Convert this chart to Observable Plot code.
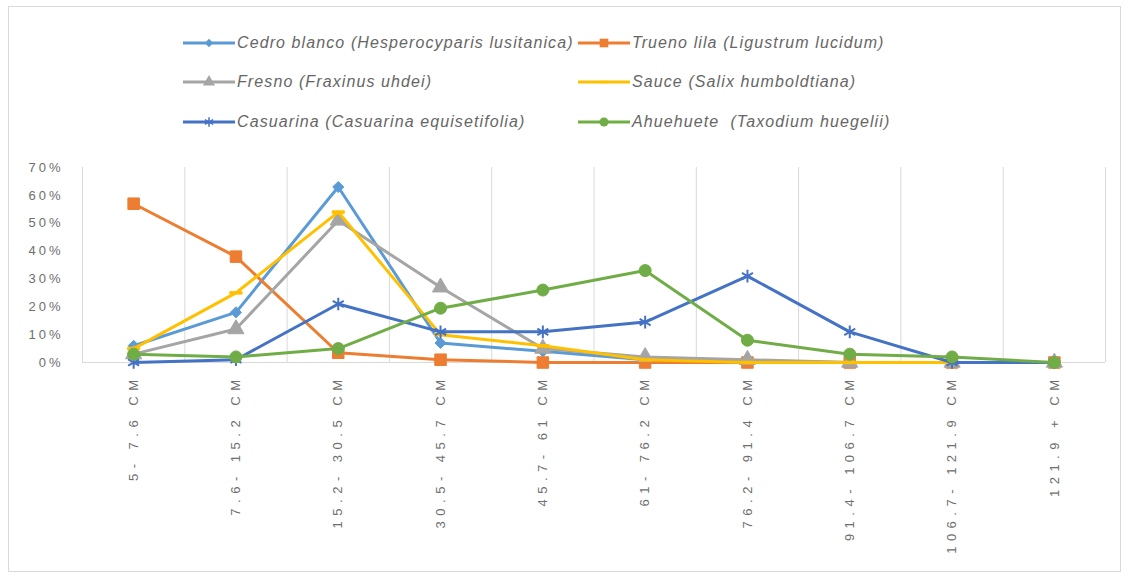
<!DOCTYPE html>
<html><head><meta charset="utf-8">
<script src="https://cdn.jsdelivr.net/npm/d3@7"></script>
<script src="https://cdn.jsdelivr.net/npm/@observablehq/plot@0.6"></script>
<style>
html,body{margin:0;padding:0;background:#fff;width:1129px;height:576px;overflow:hidden}
#frame{position:absolute;left:8px;top:6px;width:1113px;height:566px;border:1px solid #d9d9d9;box-sizing:border-box}
#legend{position:absolute;left:0;top:0;width:1129px;height:140px}
.item{position:absolute;display:flex;align-items:center;font:italic 16px "Liberation Sans",sans-serif;letter-spacing:1.1px;color:#666;white-space:pre;transform:translateY(-50%)}
.item svg{display:block;margin-right:2px}
#chart{position:absolute;left:0;top:140px}
#chart g[aria-label="x-axis tick label"] text{letter-spacing:5.5px}
#chart g[aria-label="y-axis tick label"] text{letter-spacing:3px}
</style></head>
<body>
<div id="frame"></div>
<div id="legend"></div>
<div id="chart"></div>
<script>
const categories = ["5- 7.6 CM","7.6- 15.2 CM","15.2- 30.5 CM","30.5- 45.7 CM","45.7- 61 CM","61- 76.2 CM","76.2- 91.4 CM","91.4- 106.7 CM","106.7- 121.9 CM","121.9 + CM"];
const seriesNames = ["Cedro blanco (Hesperocyparis lusitanica)","Trueno lila (Ligustrum lucidum)","Fresno (Fraxinus uhdei)","Sauce (Salix humboldtiana)","Casuarina (Casuarina equisetifolia)","Ahuehuete  (Taxodium huegelii)"];
const cedro     = [0.06, 0.18, 0.63, 0.07, 0.04, 0.01, 0.005, 0, 0, 0];
const trueno    = [0.57, 0.38, 0.035, 0.01, 0, 0, 0, 0, 0, 0];
const fresno    = [0.03, 0.12, 0.51, 0.27, 0.05, 0.02, 0.01, 0, 0, 0];
const sauce     = [0.05, 0.25, 0.54, 0.10, 0.06, 0.01, 0, 0, 0, 0];
const casuarina = [0, 0.01, 0.21, 0.11, 0.11, 0.145, 0.31, 0.11, 0, 0];
const ahuehuete = [0.03, 0.02, 0.05, 0.195, 0.26, 0.33, 0.08, 0.03, 0.02, 0];
const yTicks = [0, 0.1, 0.2, 0.3, 0.4, 0.5, 0.6, 0.7];

const colors = ["#5B9BD5","#ED7D31","#A5A5A5","#FFC000","#4472C4","#70AD47"];
const dash = {draw(ctx, size){const w = Math.sqrt(size)*1.25, h = 2.5; ctx.rect(-w/2,-h/2,w,h);}};
const symbols = ["diamond2","square","triangle","dash","asterisk","circle"];
const radii = [5, 6.5, 6, 5.5, 6, 6];
const d3sym = {diamond2: d3.symbolDiamond2, square: d3.symbolSquare, triangle: d3.symbolTriangle, asterisk: d3.symbolAsterisk, circle: d3.symbolCircle, dash: dash};
const allValues = [cedro, trueno, fresno, sauce, casuarina, ahuehuete];

const idx = categories.map((_, i) => i);
const bounds = [...idx.map(i => i - 0.5), categories.length - 0.5];

const marks = [
  Plot.ruleX(bounds, {stroke: "#d9d9d9", strokeWidth: 1}),
  Plot.ruleY([0], {stroke: "#d9d9d9", strokeWidth: 1}),
  Plot.axisY({ticks: yTicks, tickFormat: d3.format(".0%"), tickSize: 0, tickPadding: 19, fill: "#6e6e6e", fontSize: 13, label: null}),
  Plot.axisX({ticks: idx, tickFormat: i => categories[i], tickRotate: -90, tickSize: 0, tickPadding: 12, fill: "#6e6e6e", fontSize: 13, label: null})
];
allValues.forEach((vals, s) => {
  const data = vals.map((v, i) => ({i, v}));
  marks.push(Plot.line(data, {x: "i", y: "v", stroke: colors[s], strokeWidth: 3, strokeLinejoin: "round"}));
  const sym = symbols[s] === "dash" ? dash : symbols[s];
  if (symbols[s] === "asterisk") {
    marks.push(Plot.dot(data, {x: "i", y: "v", symbol: sym, r: radii[s], stroke: colors[s], strokeWidth: 2, fill: "none"}));
  } else {
    marks.push(Plot.dot(data, {x: "i", y: "v", symbol: sym, r: radii[s], fill: colors[s], stroke: colors[s], strokeWidth: 1}));
  }
});

const chart = Plot.plot({
  width: 1129,
  height: 432,
  marginLeft: 82,
  marginRight: 24,
  marginTop: 27,
  marginBottom: 210,
  x: {type: "linear", domain: [-0.5, categories.length - 0.5], axis: null, label: null},
  y: {domain: [0, 0.7], axis: null, label: null},
  style: {fontFamily: "'Liberation Sans', Arial, sans-serif", fontSize: "13px", background: "transparent"},
  marks
});
document.getElementById("chart").appendChild(chart);

// legend
const legend = document.getElementById("legend");
const colX = [183, 578];
const rowY = [43, 82, 122];
seriesNames.forEach((name, s) => {
  const item = document.createElement("div");
  item.className = "item";
  item.style.left = colX[s % 2] + "px";
  item.style.top = rowY[Math.floor(s / 2)] + "px";
  const ns = "http://www.w3.org/2000/svg";
  const svg = document.createElementNS(ns, "svg");
  svg.setAttribute("width", 52); svg.setAttribute("height", 14);
  const line = document.createElementNS(ns, "line");
  line.setAttribute("x1", 0); line.setAttribute("x2", 52); line.setAttribute("y1", 7); line.setAttribute("y2", 7);
  line.setAttribute("stroke", colors[s]); line.setAttribute("stroke-width", 3);
  svg.appendChild(line);
  const p = document.createElementNS(ns, "path");
  const r = radii[s] * 0.75;
  p.setAttribute("d", d3.symbol(d3sym[symbols[s]], Math.PI * r * r)());
  p.setAttribute("transform", "translate(26,7)");
  if (symbols[s] === "asterisk") { p.setAttribute("fill", "none"); p.setAttribute("stroke", colors[s]); p.setAttribute("stroke-width", 1.5); }
  else { p.setAttribute("fill", colors[s]); }
  svg.appendChild(p);
  item.appendChild(svg);
  const t = document.createElement("span");
  t.textContent = name;
  item.appendChild(t);
  legend.appendChild(item);
});
</script>
</body></html>
